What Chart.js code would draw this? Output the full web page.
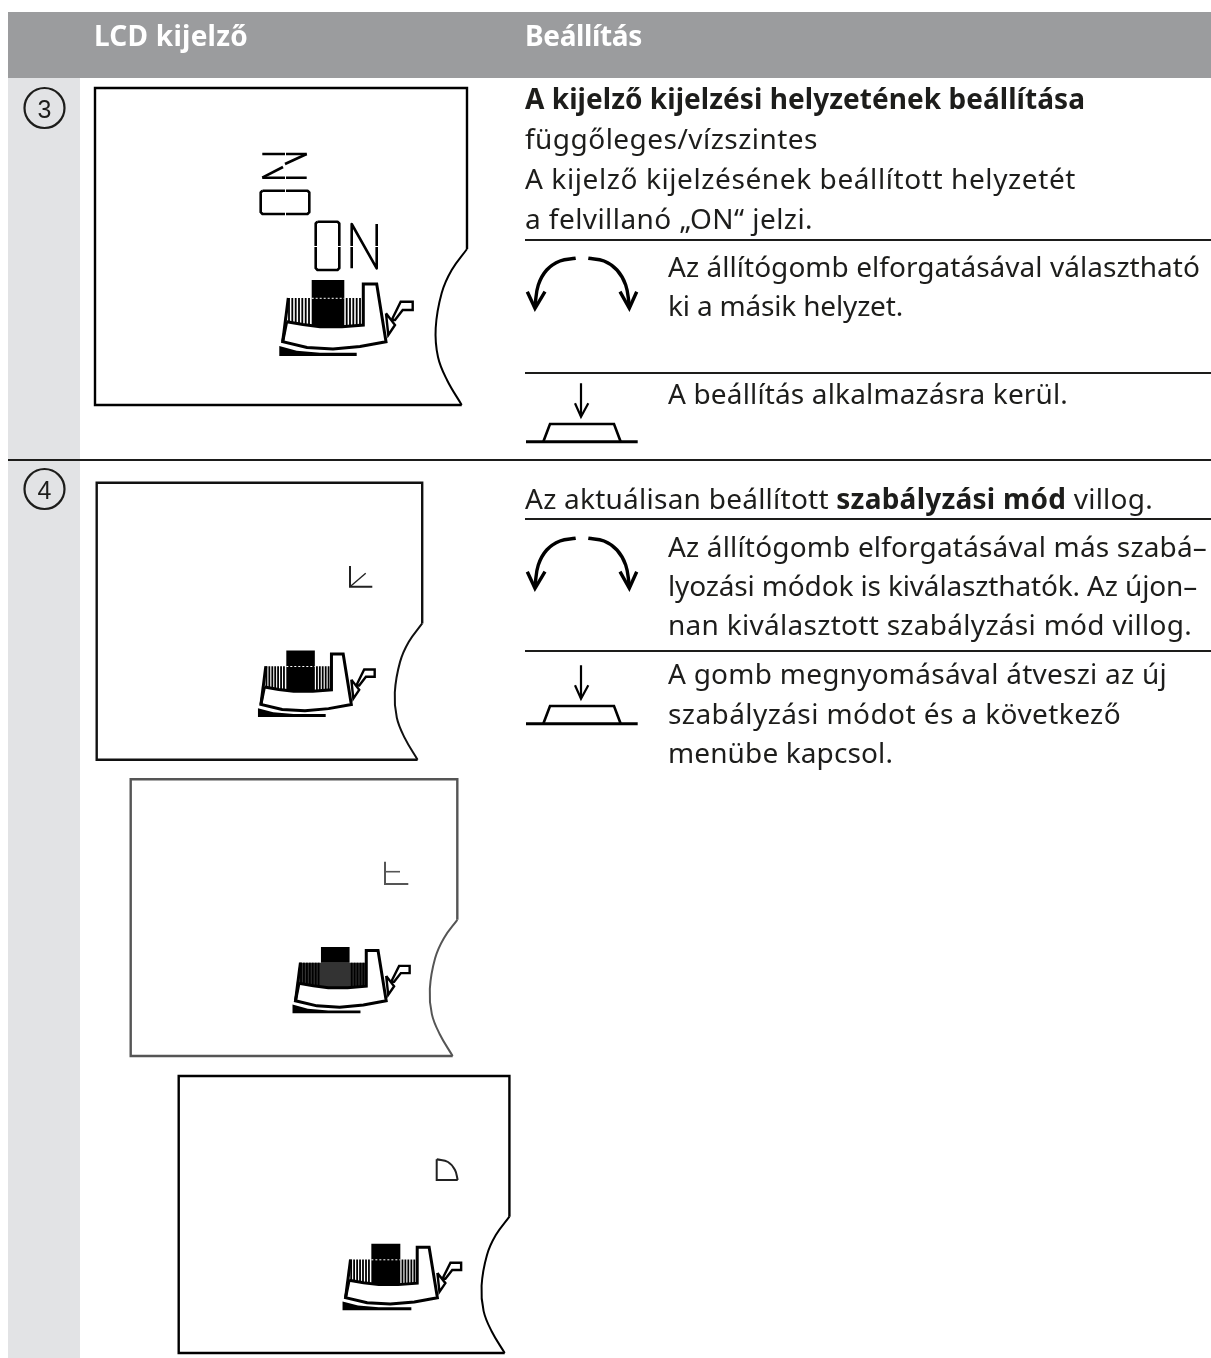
<!DOCTYPE html>
<html lang="hu">
<head>
<meta charset="utf-8">
<title>LCD kijelző</title>
<script src="https://cdn.jsdelivr.net/npm/chart.js@4"></script>
<style>
  html, body { margin: 0; padding: 0; background: #fff; }
  #wrap { position: relative; width: 1211px; height: 1358px; overflow: hidden; }
  #page { position: absolute; left: 0; top: 0; }
  .t { position: absolute; white-space: pre; font: 28px/40px "Noto Sans", sans-serif; color: #1d1d1b; height: 40px; }
  .b { font-weight: 700; }
  .h { font-weight: 700; color: #fff; }
  .n { font: 25px/40px "Liberation Sans", sans-serif; }
</style>
</head>
<body>
<div id="wrap"><canvas id="page" width="1211" height="1358"></canvas></div>
<script>
// text, with the right end of each line as read from the sheet
const textLines = ['LCD kijelző', 'Beállítás', '3', '4',
  'függőleges/vízszintes', 'A kijelző kijelzésének beállított helyzetét', 'a felvillanó „ON“ jelzi.',
  'Az állítógomb elforgatásával választható', 'ki a másik helyzet.', 'A beállítás alkalmazásra kerül.',
  'Az állítógomb elforgatásával más szabá–', 'lyozási módok is kiválaszthatók. Az újon–',
  'nan kiválasztott szabályzási mód villog.', 'A gomb megnyomásával átveszi az új',
  'szabályzási módot és a következő', 'menübe kapcsol.'];
const textX = [94, 525, 37.5, 37.5, 525, 525, 525, 668, 668, 668, 668, 668, 668, 668, 668, 668];
const textY = [35, 35, 109, 490, 138, 178, 218, 266, 305, 393, 546, 585, 624, 673, 713, 752];
const textEnd = [248, 642, null, null, 818, 1076, 813, 1200, 903, 1068, 1207, 1197, 1192, 1167, 1121, 893];
const boldLine = ['A kijelző kijelzési helyzetének beállítása'];
const mixedLine = ['Az aktuálisan beállított ', 'szabályzási mód', ' villog.'];
const boldEnd = 1085;
const mixedEnd = 1153;

// table background and rules
const headerX = [8, 1211, 1211, 8];
const headerY = [12, 12, 78, 78];
const sideX = [8, 80, 80, 8];
const sideY = [78, 78, 1358, 1358];
const ruleX1 = [8, 525, 525, 525, 525];
const ruleX2 = [1211, 1211, 1211, 1211, 1211];
const ruleY = [460, 240, 373, 519, 651];
const badgeX = [44.5, 44.5];
const badgeY = [108, 489];

// display panels: outline and notch in the units of the first panel
const panelLeft = [95, 96.7, 130.7, 178.7];
const panelTop = [88, 482.7, 779.3, 1076];
const panelScaleX = [1, 0.875, 0.878, 0.889];
const panelScaleY = [1, 0.874, 0.873, 0.874];
const panelColor = ['#000', '#111', '#555', '#000'];
const edgeX = [372, 372, 0, 0, 366.7];
const edgeY = [161, 0, 0, 317, 317];
const notchX = [372, 356.7, 346.7, 340.7, 343, 352, 366.7];
const notchY = [161, 182, 205, 240, 269, 292, 317];

// knob icon, same units
const blockX = [216.7, 249.3, 249.3, 216.7];
const blockY = [192, 192, 238.7, 238.7];
const blockShortY = [192, 192, 210, 210];
const hatchX = [194, 197.3, 200.7, 204, 207.3, 210.7, 214, 251.7, 255, 258.3, 261.7, 265];
const hatchTop = 210;
const hatchBottom = 238;
const hatchFillX = [192, 268, 268, 192];
const hatchFillY = [210, 210, 238, 238];
const dotsX = [216.7, 249.3];
const dotsY = [210.3, 210.3];
const bodyX = [191.7, 208, 225, 247, 268.3, 268.3, 281.7, 291, 265, 238, 212, 187.7, 191.7];
const bodyY = [233.7, 236.5, 238.7, 238.7, 237, 196, 196, 253.7, 258.5, 261, 259.5, 253.7, 233.7];
const bodyLeftX = [187.7, 193.3];
const bodyLeftY = [253.7, 210];
const footX = [184.3, 201.7, 225, 261.7, 261.7, 184.3];
const footY = [258, 262.7, 264.7, 264.7, 268, 268];
const wedgeX = [291, 300, 293.3, 291];
const wedgeY = [225.3, 237, 247, 225.3];
const leverX = [296.7, 305.7, 317.7, 317.7, 307.7, 300, 296.7];
const leverY = [232, 213.7, 213.7, 222, 222, 232, 232];

// LCD segments of the first panel
const zTopX = [262.3, 306.7];
const zTopY = [154, 154];
const zDiagUpX = [306.7, 285];
const zDiagUpY = [154, 164];
const zDiagLowX = [283, 262.3];
const zDiagLowY = [167, 177.7];
const zBottomX = [262.3, 306.7];
const zBottomY = [177.7, 177.7];
const oSideX = [262.5, 307.5, 309.3, 309.3, 307.5, 262.5, 260.7, 260.7, 262.5];
const oSideY = [190.7, 190.7, 192.5, 212.2, 214, 214, 212.2, 192.5, 190.7];
const oUpX = [317.5, 337.5, 339.3, 339.3, 337.5, 317.5, 315.7, 315.7, 317.5];
const oUpY = [221.7, 221.7, 223.5, 268.2, 270, 270, 268.2, 223.5, 221.7];
const nX = [351.7, 351.7, 376.7, 376.7];
const nY = [268.3, 224, 268.3, 224];
// thin breaks between the segments
const breakX = [285, 285, 285, 285];
const breakY = [154, 177.7, 190.7, 214];
const breakUpX = [315.7, 339.3, 351.7, 376.7];
const breakUpY = [246, 246, 246, 246];

// mode symbols of the other panels
const modeAX = [350, 350, 372.3];
const modeAY = [566, 586.7, 586.7];
const modeADiagX = [350, 365.7];
const modeADiagY = [586.7, 573.3];
const modeBX = [385, 385, 408.3];
const modeBY = [861.7, 884, 884];
const modeBMidX = [385, 400];
const modeBMidY = [871.7, 871.7];
const modeCX = [457.7, 436.7, 436.7];
const modeCY = [1180, 1180, 1159.3];
const modeCArcX = [436.7, 448, 455, 457.7];
const modeCArcY = [1159.3, 1162, 1170, 1180];

// knob turn and push symbols
const turnLeftX = [575.7, 560, 546.7, 538.3, 535];
const turnLeftY = [258.3, 261, 270, 285, 305];
const turnLeftHeadX = [527.3, 535, 545];
const turnLeftHeadY = [291.7, 308.3, 291.7];
const turnRightX = [588.3, 604, 617, 625.7, 629.3];
const turnRightY = [258.3, 261, 270, 285, 305];
const turnRightHeadX = [620, 629.3, 636.7];
const turnRightHeadY = [291.7, 308.3, 291.7];
const pushArrowX = [581, 581];
const pushArrowY = [383.3, 416];
const pushHeadX = [575, 581, 588.3];
const pushHeadY = [403.3, 416.7, 403.3];
const pushCapX = [543.3, 550, 614, 620.7];
const pushCapY = [441.7, 424, 424, 441.7];
const pushBaseX = [526, 637.7];
const pushBaseY = [441.7, 441.7];
const symbolShiftY = [0, 280];
const pushShiftY = [0, 282];

const datasets = [];

function add(xs, ys, opt) {
    const o = opt || {};
    datasets.push({
        data: xs.map((x, i) => ({ x: x, y: ys[i] })),
        showLine: true,
        pointRadius: 0,
        borderColor: o.color || '#000',
        borderWidth: o.width === undefined ? 2 : o.width,
        backgroundColor: o.fill || 'transparent',
        fill: o.fill ? 'shape' : false,
        tension: o.tension || 0,
        borderDash: o.dash || [],
        borderCapStyle: 'butt',
        borderJoinStyle: o.join || 'miter'
    });
}

// page furniture
add(headerX, headerY, { fill: '#9b9c9e', width: 0 });
add(sideX, sideY, { fill: '#e2e3e5', width: 0 });
ruleY.forEach((y, i) => add([ruleX1[i], ruleX2[i]], [y, y], { width: 2, color: '#1d1d1b' }));
datasets.push({
    data: badgeX.map((x, i) => ({ x: x, y: badgeY[i] })),
    showLine: false,
    pointRadius: 20,
    pointBorderWidth: 2.2,
    pointBorderColor: '#1d1d1b',
    pointBackgroundColor: 'transparent'
});

// panels
panelLeft.forEach((left, p) => {
    const px = xs => xs.map(x => left + x * panelScaleX[p]);
    const py = ys => ys.map(y => panelTop[p] + y * panelScaleY[p]);
    const color = panelColor[p];
    add(px(edgeX), py(edgeY), { color: color, width: 2.4 });
    add(px(notchX), py(notchY), { color: color, width: 2, tension: 0.4 });
    if (p === 2) {
        // this panel shows the whole hatch dark and only the top of the block
        add(px(hatchFillX), py(hatchFillY), { fill: '#333', width: 0 });
    }
    add(px(blockX), py(p === 2 ? blockShortY : blockY), { fill: '#000', width: 0 });
    hatchX.forEach(x => add(px([x, x]), py([hatchTop, hatchBottom]), { width: 1.8 }));
    if (p !== 2) add(px(dotsX), py(dotsY), { color: '#fff', width: 1, dash: [2, 2] });
    add(px(bodyX), py(bodyY), { fill: '#fff', width: 3 });
    add(px(bodyLeftX), py(bodyLeftY), { width: 3 });
    add(px(footX), py(footY), { fill: '#000', width: 0 });
    add(px(wedgeX), py(wedgeY), { width: 2.4 });
    add(px(leverX), py(leverY), { width: 2.4 });
});

// segments
const lcd = { width: 2.6, join: 'round' };
add(zTopX, zTopY, lcd);
add(zDiagUpX, zDiagUpY, lcd);
add(zDiagLowX, zDiagLowY, lcd);
add(zBottomX, zBottomY, lcd);
add(oSideX, oSideY, lcd);
add(oUpX, oUpY, lcd);
add(nX, nY, lcd);
breakX.forEach((x, i) => add([x, x + 1], [breakY[i], breakY[i]], { color: '#fff', width: 4 }));
breakUpX.forEach((x, i) => add([x, x], [breakUpY[i], breakUpY[i] + 1], { color: '#fff', width: 4 }));
add(modeAX, modeAY, { width: 2, color: '#222' });
add(modeADiagX, modeADiagY, { width: 1.4, color: '#222' });
add(modeBX, modeBY, { width: 2, color: '#555' });
add(modeBMidX, modeBMidY, { width: 1.6, color: '#555' });
add(modeCX, modeCY, { width: 2, color: '#222' });
add(modeCArcX, modeCArcY, { width: 2, color: '#222', tension: 0.4 });

// symbols
symbolShiftY.forEach(s => {
    const sy = ys => ys.map(y => y + s);
    add(turnLeftX, sy(turnLeftY), { width: 3.4, tension: 0.4 });
    add(turnLeftHeadX, sy(turnLeftHeadY), { width: 3.4 });
    add(turnRightX, sy(turnRightY), { width: 3.4, tension: 0.4 });
    add(turnRightHeadX, sy(turnRightHeadY), { width: 3.4 });
});
pushShiftY.forEach(s => {
    const sy = ys => ys.map(y => y + s);
    add(pushArrowX, sy(pushArrowY), { width: 2.2 });
    add(pushHeadX, sy(pushHeadY), { width: 2.2 });
    add(pushCapX, sy(pushCapY), { width: 2.6 });
    add(pushBaseX, sy(pushBaseY), { width: 3 });
});

// first dataset on the bottom, like the drawing order of the sheet
datasets.forEach((d, i) => { d.order = datasets.length - i; });

const chart = new Chart(document.getElementById('page').getContext('2d'), {
    type: 'scatter',
    data: { datasets: datasets },
    options: {
        responsive: false,
        animation: false,
        layout: { padding: 0, autoPadding: false },
        plugins: { legend: { display: false }, tooltip: { enabled: false } },
        scales: {
            x: { type: 'linear', display: false, min: 0, max: 1211 },
            y: { type: 'linear', display: false, min: 0, max: 1358, reverse: true }
        }
    }
});

// real text on top of the chart, placed through its scales
const wrap = document.getElementById('wrap');

function place(el, x, y, end, chars) {
    el.style.left = chart.scales.x.getPixelForValue(x) + 'px';
    el.style.top = (chart.scales.y.getPixelForValue(y) - 20) + 'px';
    wrap.appendChild(el);
    if (end) {
        const w = el.getBoundingClientRect().width;
        el.style.letterSpacing = ((end - x - w) / chars).toFixed(3) + 'px';
    }
}

textLines.forEach((s, i) => {
    const el = document.createElement('div');
    el.className = 't' + (i < 2 ? ' h' : '') + (i === 2 || i === 3 ? ' n' : '');
    el.textContent = s;
    place(el, textX[i], textY[i], textEnd[i], s.length);
});

// lines with a bold part
const head = document.createElement('div');
head.className = 't b';
head.textContent = boldLine[0];
place(head, 525, 98, boldEnd, boldLine[0].length);
const mixed = document.createElement('div');
mixed.className = 't';
mixedLine.forEach((s, i) => {
    const sp = document.createElement(i === 1 ? 'b' : 'span');
    sp.textContent = s;
    mixed.appendChild(sp);
});
place(mixed, 525, 498, mixedEnd, mixedLine.join('').length);
</script>
</body>
</html>
